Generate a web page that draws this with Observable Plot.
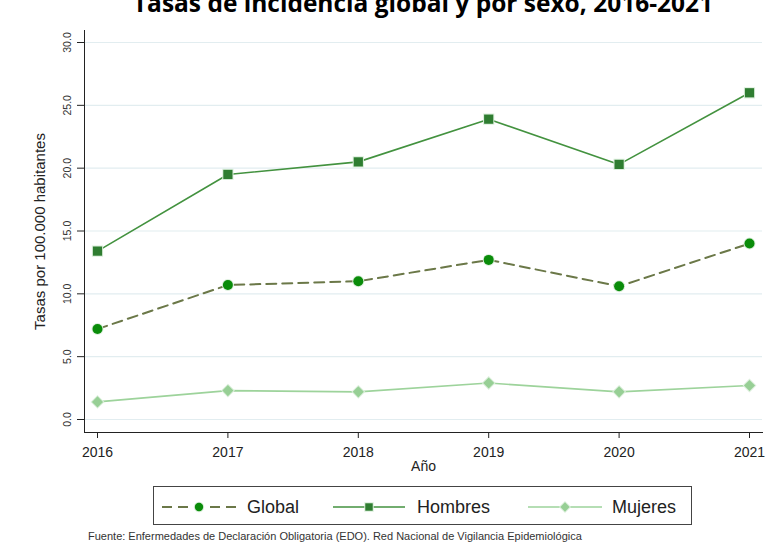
<!DOCTYPE html>
<html><head><meta charset="utf-8">
<script src="https://cdn.jsdelivr.net/npm/d3@7"></script>
<script src="https://cdn.jsdelivr.net/npm/@observablehq/plot@0.6"></script>
<style>
body{margin:0;width:765px;height:555px;overflow:hidden;background:#fff;position:relative;font-family:"Liberation Sans",Arial,sans-serif;color:#222;}
#title{position:absolute;left:0;width:846px;text-align:center;top:-10px;font-family:"Open Sans",sans-serif;font-weight:700;font-size:24.5px;line-height:26px;color:#000;white-space:nowrap;}
#chart{position:absolute;left:0;top:0;}
#legend{position:absolute;left:153px;top:486px;width:539px;height:39px;border:1px solid #444;box-sizing:border-box;}
#caption{position:absolute;left:88px;top:530px;font-size:11px;color:#333;white-space:nowrap;}
</style></head>
<body>
<div id="title">Tasas de incidencia global y por sexo, 2016-2021</div>
<div id="chart"></div>
<div id="legend"></div>
<div id="caption">Fuente: Enfermedades de Declaración Obligatoria (EDO). Red Nacional de Vigilancia Epidemiológica</div>
<script>
const years = [2016, 2017, 2018, 2019, 2020, 2021];
const globalValues = [7.2, 10.7, 11.0, 12.7, 10.6, 14.0];
const hombresValues = [13.4, 19.5, 20.5, 23.9, 20.3, 26.0];
const mujeresValues = [1.4, 2.3, 2.2, 2.9, 2.2, 2.7];
const seriesNames = ["Global", "Hombres", "Mujeres"];
const yTicks = [0, 5, 10, 15, 20, 25, 30];
const yLabel = "Tasas por 100.000 habitantes";
const xLabel = "Año";

const styles = {
  Global: {line: "#6b7848", fill: "#0a8c0a", dash: "10,6", width: 2, symbol: "circle", r: 5},
  Hombres: {line: "#43923f", fill: "#2f7d31", dash: null, width: 1.6, symbol: "square", r: 5.2},
  Mujeres: {line: "#9dd39b", fill: "#97cf95", dash: null, width: 1.6, symbol: "diamond2", r: 5}
};
const valuesBy = {Global: globalValues, Hombres: hombresValues, Mujeres: mujeresValues};
const tables = Object.fromEntries(seriesNames.map(s => [s, years.map((y, i) => ({year: y, value: valuesBy[s][i], serie: s}))]));

const marks = [
  Plot.gridY(yTicks, {stroke: "#e2edf0", strokeOpacity: 1, strokeWidth: 1.2}),
  Plot.frame({anchor: "left", stroke: "#222"}),
  Plot.frame({anchor: "bottom", stroke: "#222"}),
  Plot.axisY(yTicks, {tickFormat: d => d.toFixed(1), tickRotate: -90, tickSize: 7, tickPadding: 7, fontSize: 10.5, label: null, fill: "#333"}),
  Plot.axisX(years, {tickFormat: d => String(d), tickSize: 6, tickPadding: 9, fontSize: 14, label: null, fill: "#222"}),
  Plot.text([yLabel], {frameAnchor: "left", textAnchor: "middle", rotate: -90, dx: -44, fontSize: 15, fill: "#222"}),
  Plot.text([xLabel], {frameAnchor: "bottom", dy: 38, fontSize: 14, fill: "#222"})
];
for (const s of ["Mujeres", "Global", "Hombres"]) {
  const st = styles[s];
  marks.push(Plot.line(tables[s], {x: "year", y: "value", stroke: st.line, strokeWidth: st.width, strokeDasharray: st.dash}));
}
for (const s of ["Mujeres", "Global", "Hombres"]) {
  const st = styles[s];
  marks.push(Plot.dot(tables[s], {x: "year", y: "value", symbol: st.symbol, r: st.r, fill: st.fill, stroke: "#dcefdc", strokeWidth: 2, paintOrder: "stroke"}));
}

const chart = Plot.plot({
  width: 765,
  height: 478,
  marginLeft: 84,
  marginRight: 3,
  marginTop: 30,
  marginBottom: 46,
  style: {fontFamily: "'Liberation Sans', Arial, sans-serif", background: "transparent", overflow: "visible"},
  x: {domain: [2016, 2021], insetLeft: 13, insetRight: 13},
  y: {domain: [0, 30], insetTop: 12, insetBottom: 13},
  marks
});
document.getElementById("chart").appendChild(chart);

// Legend
const legend = d3.select("#legend");
const svg = legend.append("svg").attr("width", 537).attr("height", 37).style("display", "block");
const items = [
  {name: "Global", x0: 8, x1: 82, tx: 93},
  {name: "Hombres", x0: 179, x1: 251, tx: 263},
  {name: "Mujeres", x0: 374, x1: 448, tx: 458}
];
items.forEach(it => {
  const st = styles[it.name];
  const cy = 20;
  svg.append("line").attr("x1", it.x0).attr("x2", it.x1).attr("y1", cy).attr("y2", cy)
    .attr("stroke", st.line).attr("stroke-width", st.width).attr("stroke-dasharray", st.dash);
  const symType = st.symbol === "circle" ? d3.symbolCircle : st.symbol === "square" ? d3.symbolSquare : d3.symbolDiamond2;
  svg.append("path").attr("d", d3.symbol(symType, Math.PI * 4.2 * 4.2)())
    .attr("transform", `translate(${(it.x0 + it.x1) / 2},${cy})`)
    .attr("fill", st.fill).attr("stroke", "#dcefdc").attr("stroke-width", 2).attr("paint-order", "stroke");
  svg.append("text").attr("x", it.tx).attr("y", cy).attr("dy", "0.35em")
    .attr("font-size", 18).attr("fill", "#222").text(it.name);
});
</script>
</body></html>
